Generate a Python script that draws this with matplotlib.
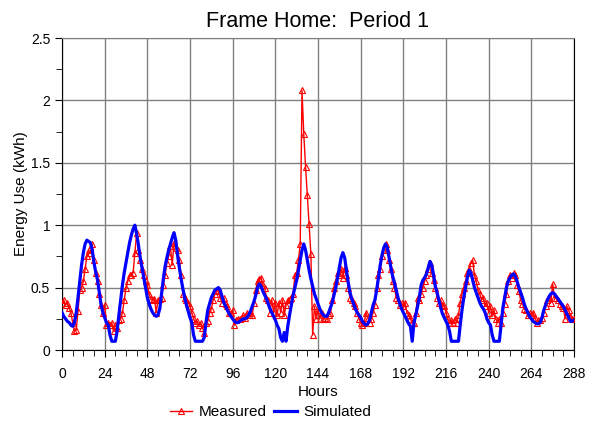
import matplotlib.pyplot as plt
import numpy as np

plt.rcParams['font.family'] = ['Liberation Sans', 'DejaVu Sans']

# Energy use per hour (kWh), hours 0..288
measured = [
    # day 1 (0-23)
    0.38, 0.40, 0.36, 0.38, 0.34, 0.30, 0.22, 0.15, 0.16, 0.31, 0.48, 0.50,
    0.55, 0.65, 0.75, 0.80, 0.78, 0.85, 0.72, 0.62, 0.55, 0.45, 0.36, 0.30,
    # day 2 (24-47)
    0.36, 0.20, 0.22, 0.20, 0.22, 0.15, 0.20, 0.18, 0.24, 0.25, 0.30, 0.40,
    0.50, 0.55, 0.60, 0.60, 0.62, 0.78, 0.94, 0.80, 0.72, 0.65, 0.60, 0.55,
    # day 3 (48-71)
    0.52, 0.45, 0.41, 0.40, 0.41, 0.30, 0.40, 0.41, 0.42, 0.52, 0.60, 0.70,
    0.75, 0.83, 0.68, 0.86, 0.82, 0.80, 0.72, 0.60, 0.45, 0.42, 0.40, 0.38,
    # day 4 (72-95)
    0.35, 0.30, 0.25, 0.22, 0.23, 0.20, 0.22, 0.18, 0.14, 0.22, 0.23, 0.30,
    0.33, 0.40, 0.45, 0.48, 0.47, 0.42, 0.38, 0.42, 0.37, 0.35, 0.30, 0.30,
    # day 5 (96-119)
    0.32, 0.20, 0.24, 0.25, 0.25, 0.26, 0.28, 0.26, 0.30, 0.28, 0.30, 0.28,
    0.38, 0.48, 0.55, 0.57, 0.58, 0.52, 0.50, 0.42, 0.40, 0.30, 0.40, 0.30,
    # day 6 (120-143)
    0.38, 0.28, 0.38, 0.30, 0.40, 0.28, 0.36, 0.40, 0.41, 0.42, 0.45, 0.60,
    0.62, 0.72, 0.85, 2.08, 1.73, 1.47, 1.24, 1.01, 0.77, 0.12, 0.35, 0.25,
    # day 7 (144-167)
    0.32, 0.25, 0.30, 0.25, 0.26, 0.25, 0.28, 0.30, 0.40, 0.50, 0.55, 0.62,
    0.60, 0.65, 0.58, 0.66, 0.60, 0.50, 0.42, 0.40, 0.38, 0.35, 0.30, 0.25,
    # day 8 (168-191)
    0.22, 0.20, 0.22, 0.30, 0.26, 0.22, 0.25, 0.30, 0.36, 0.50, 0.60, 0.65,
    0.75, 0.80, 0.85, 0.80, 0.72, 0.65, 0.55, 0.50, 0.42, 0.40, 0.36, 0.38,
    # day 9 (192-215)
    0.35, 0.38, 0.30, 0.28, 0.25, 0.22, 0.22, 0.30, 0.42, 0.40, 0.45, 0.50,
    0.55, 0.60, 0.65, 0.70, 0.62, 0.56, 0.50, 0.42, 0.38, 0.40, 0.36, 0.35,
    # day 10 (216-239)
    0.30, 0.25, 0.22, 0.24, 0.22, 0.25, 0.22, 0.28, 0.38, 0.45, 0.50, 0.55,
    0.62, 0.65, 0.70, 0.72, 0.60, 0.55, 0.48, 0.45, 0.40, 0.42, 0.35, 0.38,
    # day 11 (240-263)
    0.30, 0.35, 0.28, 0.32, 0.25, 0.22, 0.25, 0.22, 0.30, 0.37, 0.45, 0.55,
    0.60, 0.58, 0.62, 0.60, 0.52, 0.47, 0.40, 0.37, 0.33, 0.32, 0.28, 0.30,
    # day 12 (264-288)
    0.28, 0.30, 0.26, 0.22, 0.24, 0.24, 0.26, 0.30, 0.35, 0.40, 0.42, 0.38,
    0.53, 0.42, 0.42, 0.40, 0.37, 0.35, 0.34, 0.25, 0.35, 0.32, 0.27, 0.25,
    0.25,
]

simulated = [
    # day 1
    0.30, 0.27, 0.25, 0.23, 0.22, 0.20, 0.19, 0.22, 0.30, 0.42, 0.55, 0.68,
    0.78, 0.85, 0.88, 0.87, 0.86, 0.80, 0.70, 0.62, 0.56, 0.46, 0.36, 0.30,
    # day 2
    0.26, 0.22, 0.20, 0.12, 0.07, 0.07, 0.07, 0.15, 0.28, 0.40, 0.52, 0.62,
    0.70, 0.78, 0.86, 0.92, 0.97, 1.00, 0.93, 0.84, 0.74, 0.66, 0.58, 0.50,
    # day 3
    0.42, 0.37, 0.33, 0.30, 0.28, 0.27, 0.28, 0.33, 0.45, 0.57, 0.67, 0.74,
    0.80, 0.85, 0.90, 0.94, 0.88, 0.76, 0.66, 0.57, 0.49, 0.42, 0.36, 0.31,
    # day 4
    0.26, 0.22, 0.12, 0.07, 0.07, 0.07, 0.07, 0.07, 0.10, 0.22, 0.32, 0.37,
    0.42, 0.45, 0.48, 0.49, 0.50, 0.48, 0.43, 0.38, 0.35, 0.32, 0.29, 0.27,
    # day 5
    0.25, 0.23, 0.22, 0.22, 0.23, 0.24, 0.25, 0.25, 0.26, 0.28, 0.31, 0.35,
    0.39, 0.44, 0.50, 0.53, 0.51, 0.47, 0.44, 0.41, 0.37, 0.33, 0.30, 0.27,
    # day 6
    0.24, 0.20, 0.17, 0.10, 0.07, 0.14, 0.07, 0.19, 0.28, 0.36, 0.44, 0.50,
    0.56, 0.64, 0.72, 0.80, 0.85, 0.80, 0.72, 0.64, 0.57, 0.51, 0.45, 0.41,
    # day 7
    0.37, 0.33, 0.30, 0.28, 0.27, 0.27, 0.30, 0.34, 0.38, 0.44, 0.50, 0.58,
    0.66, 0.74, 0.78, 0.74, 0.64, 0.54, 0.46, 0.41, 0.37, 0.33, 0.30, 0.28,
    # day 8
    0.26, 0.23, 0.21, 0.20, 0.21, 0.24, 0.30, 0.36, 0.40, 0.48, 0.58, 0.68,
    0.76, 0.82, 0.85, 0.82, 0.74, 0.66, 0.59, 0.54, 0.48, 0.42, 0.37, 0.33,
    # day 9
    0.30, 0.27, 0.24, 0.21, 0.19, 0.07, 0.22, 0.28, 0.35, 0.42, 0.52, 0.56,
    0.58, 0.61, 0.66, 0.71, 0.68, 0.60, 0.51, 0.46, 0.40, 0.34, 0.29, 0.26,
    # day 10
    0.23, 0.20, 0.15, 0.07, 0.07, 0.07, 0.07, 0.07, 0.20, 0.32, 0.42, 0.50,
    0.58, 0.64, 0.62, 0.56, 0.50, 0.46, 0.42, 0.38, 0.35, 0.33, 0.30, 0.25,
    # day 11
    0.22, 0.20, 0.12, 0.07, 0.07, 0.07, 0.07, 0.20, 0.34, 0.42, 0.50, 0.55,
    0.58, 0.60, 0.61, 0.59, 0.55, 0.50, 0.46, 0.42, 0.37, 0.33, 0.30, 0.27,
    # day 12
    0.25, 0.23, 0.22, 0.21, 0.21, 0.22, 0.26, 0.32, 0.36, 0.40, 0.43, 0.45,
    0.46, 0.45, 0.43, 0.41, 0.39, 0.37, 0.35, 0.32, 0.29, 0.26, 0.23, 0.23,
    0.24,
]

hours = np.arange(len(measured))
x_ticks = np.arange(0, 289, 24)
y_ticks = [0, 0.5, 1, 1.5, 2, 2.5]
y_labels = ['0', '0.5', '1', '1.5', '2', '2.5']

fig = plt.figure(figsize=(5.98, 4.30), dpi=100)
ax = fig.add_axes([62 / 598, 1 - 350 / 430, 512 / 598, 312 / 430])

ax.plot(hours, measured, color='red', lw=1, marker='^', ms=4.5,
        mfc='none', mec='red', mew=0.8, label='Measured', zorder=3)
ax.plot(hours, simulated, color='#0000ff', lw=2.3, label='Simulated', zorder=4)

ax.set_xlim(0, 288)
ax.set_ylim(0, 2.5)
ax.set_xticks(x_ticks)
ax.set_xticks(np.arange(0, 289, 6), minor=True)
ax.set_yticks(y_ticks)
ax.set_yticklabels(y_labels)
ax.set_yticks(np.arange(0, 2.51, 0.25), minor=True)
ax.tick_params(axis='both', which='major', length=5, labelsize=10, color='black')
ax.tick_params(axis='both', which='minor', length=4, color='black')
ax.tick_params(axis='x', which='major', pad=7)
ax.grid(True, which='major', color='#808080', lw=1)
ax.set_axisbelow(True)

for side in ['left', 'bottom', 'right']:
    ax.spines[side].set_color('black')
ax.spines['top'].set_color('#808080')

ax.set_title('Frame Home:  Period 1', fontsize=15.5, pad=8)
ax.set_xlabel('Hours', fontsize=11, labelpad=3)
ax.set_ylabel('Energy Use (kWh)', fontsize=11, labelpad=2)

fig.legend(loc='center', bbox_to_anchor=(0.452, 0.042), ncol=2, frameon=False,
           fontsize=11, handlelength=1.5, columnspacing=0.5, handletextpad=0.4)

fig.savefig('out.png', dpi=100)
